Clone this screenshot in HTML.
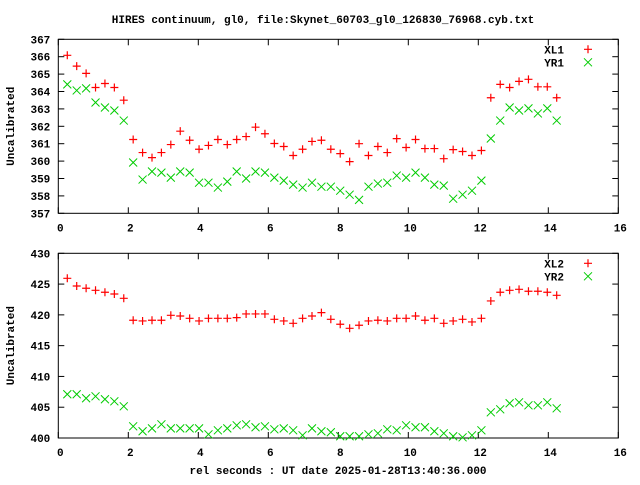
<!DOCTYPE html>
<html><head><meta charset="utf-8"><style>
body{margin:0;background:#fff}
svg text{font-family:"Liberation Mono",monospace;font-weight:bold;font-size:11px;fill:#000}
</style></head><body>
<svg id="c" width="640" height="480" xmlns="http://www.w3.org/2000/svg">
<text x="323" y="23" text-anchor="middle">HIRES continuum, gl0, file:Skynet_60703_gl0_126830_76968.cyb.txt</text>
<text x="338" y="474" text-anchor="middle">rel seconds : UT date 2025-01-28T13:40:36.000</text>
</svg>
<script>
const xl1=[366.08,365.46,365.04,364.23,364.46,364.23,363.5,361.24,360.49,360.2,360.49,360.95,361.72,361.2,360.68,360.9,361.24,360.95,361.24,361.41,361.95,361.57,361.01,360.84,360.32,360.68,361.13,361.2,360.68,360.43,359.97,361.0,360.32,360.84,360.49,361.29,360.78,361.24,360.72,360.72,360.14,360.66,360.55,360.32,360.61,363.64,364.41,364.23,364.58,364.7,364.27,364.27,363.64];
const yr1=[364.41,364.06,364.18,363.37,363.08,362.91,362.33,359.92,358.94,359.4,359.34,359.05,359.4,359.34,358.76,358.76,358.48,358.82,359.4,359.0,359.4,359.34,359.05,358.88,358.65,358.48,358.76,358.53,358.53,358.3,358.07,357.77,358.53,358.71,358.76,359.17,359.05,359.34,359.05,358.65,358.59,357.84,358.07,358.3,358.88,361.3,362.33,363.08,362.91,363.03,362.74,363.03,362.33];
const xl2=[425.94,424.69,424.32,423.99,423.67,423.39,422.69,419.12,419.01,419.12,419.12,419.93,419.82,419.44,419.01,419.44,419.44,419.44,419.55,420.15,420.15,420.15,419.28,419.01,418.63,419.44,419.82,420.36,419.28,418.47,417.82,418.31,419.01,419.12,419.01,419.44,419.44,419.82,419.12,419.44,418.63,419.01,419.28,418.85,419.44,422.26,423.67,423.99,424.15,423.83,423.83,423.67,423.18];
const yr2=[407.1,407.1,406.45,406.77,406.29,405.96,405.15,401.9,401.09,401.57,402.22,401.57,401.57,401.57,401.57,400.6,401.25,401.57,402.06,402.22,401.74,401.9,401.41,401.57,401.25,400.44,401.57,401.09,400.93,400.28,400.28,400.28,400.6,400.76,401.41,401.25,402.06,401.74,401.74,401.09,400.76,400.28,400.11,400.44,401.25,404.17,404.66,405.64,405.8,405.31,405.31,405.8,404.82];
const xTicks=[0,2,4,6,8,10,12,14,16];
const yTicks1=[357,358,359,360,361,362,363,364,365,366,367];
const yTicks2=[400,405,410,415,420,425,430];
const T0=0.257, DT=0.2689;
const S=document.getElementById('c'),NS='http://www.w3.org/2000/svg';
function mk(t,a,p){const e=document.createElementNS(NS,t);for(const k in a)e.setAttribute(k,a[k]);(p||S).appendChild(e);return e;}
function panel(cfg){
  const {top,bot,ymin,ymax,yt,s1,s2,n1,n2,tag}=cfg;
  const L=58.3,R=618.3;
  const X=v=>L+(v-0)/16*(R-L), Y=v=>bot-(v-ymin)/(ymax-ymin)*(bot-top);
  const g=mk('g',{});
  
  
  const fr=mk('rect',{x:L,y:top,width:R-L,height:bot-top,fill:'none',stroke:'#000','stroke-width':1},g);
  
  
  xTicks.forEach(v=>{const x=X(v);
    mk('line',{x1:x,y1:bot,x2:x,y2:bot-6,stroke:'#000'},g);
    mk('line',{x1:x,y1:top,x2:x,y2:top+6,stroke:'#000'},g);
    const t=mk('text',{x:x+2,y:bot+18,'text-anchor':'middle'},g);t.textContent=v;
    
    });
  yt.forEach(v=>{const y=Y(v);
    mk('line',{x1:L,y1:y,x2:L+6,y2:y,stroke:'#000'},g);
    mk('line',{x1:R,y1:y,x2:R-6,y2:y,stroke:'#000'},g);
    const t=mk('text',{x:L-8,y:y+4,'text-anchor':'end'},g);t.textContent=v;
    
    });
  const yl=mk('text',{x:0,y:0,'text-anchor':'middle',transform:`translate(14,${(top+bot)/2}) rotate(-90)`},g);yl.textContent='Uncalibrated';
  
  
  const plus=(x,y,p)=>mk('path',{d:`M${x-4},${y}H${x+4}M${x},${y-4}V${y+4}`,stroke:'#f00','stroke-width':1.2,fill:'none'},p);
  const cross=(x,y,p)=>mk('path',{d:`M${x-4},${y-4}L${x+4},${y+4}M${x-4},${y+4}L${x+4},${y-4}`,stroke:'#0c0','stroke-width':1,fill:'none'},p);
  const g1=mk('g',{},g);
  s1.forEach((v,i)=>plus(X(T0+DT*i),Y(v),g1));
  const g2=mk('g',{},g);
  s2.forEach((v,i)=>cross(X(T0+DT*i),Y(v),g2));
  const l1=mk('text',{x:564,y:top+14,'text-anchor':'end'},g);l1.textContent=n1;
  
  plus(588,top+10,g);
  const l2=mk('text',{x:564,y:top+27,'text-anchor':'end'},g);l2.textContent=n2;
  
  cross(588,top+23,g);
}
panel({top:39.3,bot:213.3,ymin:357,ymax:367,yt:yTicks1,s1:xl1,s2:yr1,n1:'XL1',n2:'YR1',tag:'top'});
panel({top:253.3,bot:438,ymin:400,ymax:430,yt:yTicks2,s1:xl2,s2:yr2,n1:'XL2',n2:'YR2',tag:'bottom'});
</script>
</body></html>
